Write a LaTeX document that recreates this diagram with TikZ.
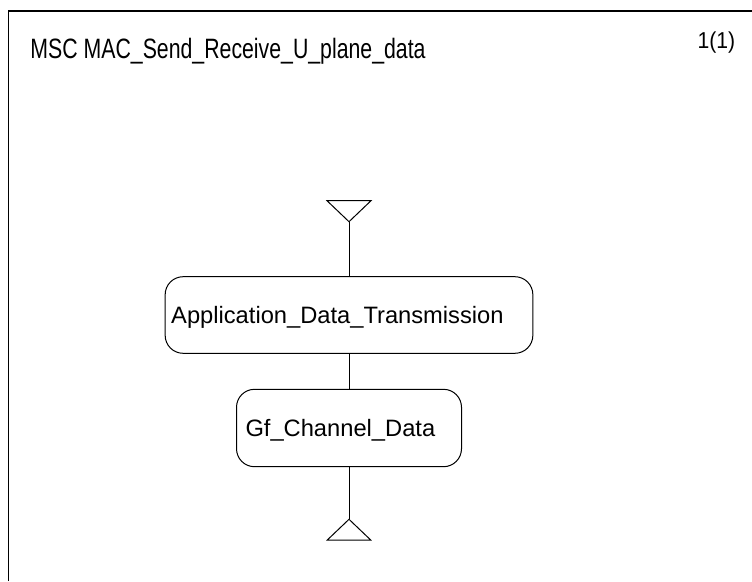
\documentclass[tikz,border=0pt]{standalone}
\usepackage{fontspec}
\setmainfont{Liberation Sans}
\begin{document}
\begin{tikzpicture}[x=1pt,y=-1pt,line width=1pt,
  refbox/.style={draw,rounded corners=18pt,inner sep=0pt},
  boxtext/.style={anchor=base west,inner sep=0pt,font=\fontsize{23.7}{28}\selectfont},
  headtext/.style={anchor=base west,inner sep=0pt}]
\useasboundingbox (0,0) rectangle (752,581);
% frame
\coordinate (fa) at (8.5,581);
\coordinate (fb) at (8.5,11);
\coordinate (fc) at (752,11);
\draw[line width=1.2pt] (fa) -- (fb) -- (fc);
% heading
\node[headtext] (title) at (30,58.3) {\fontsize{28}{32}\selectfont\scalebox{0.76}[1]{MSC MAC\_Send\_Receive\_U\_plane\_data}};
\node[headtext] (page) at (697,48.5) {\fontsize{23}{27}\selectfont\scalebox{0.92}[1]{1(1)}};
% top triangle
\coordinate (t1a) at (327,200.7);
\coordinate (t1b) at (371,200.7);
\coordinate (t1apex) at (349,221.7);
\draw[line join=miter] (t1a) -- (t1b) -- (t1apex) -- cycle;
% boxes
\node[refbox,minimum width=367.7pt,minimum height=76.6pt] (box1) at (349,315) {};
\node[boxtext] (txt1) at (170.7,323.5) {Application\_Data\_Transmission};
\node[refbox,minimum width=225pt,minimum height=77.4pt] (box2) at (349,428) {};
\node[boxtext] (txt2) at (245,436.3) {Gf\_Channel\_Data};
% bottom triangle
\coordinate (t2apex) at (349,519.3);
\coordinate (t2a) at (327.3,540);
\coordinate (t2b) at (370.7,540);
\draw[line join=miter] (t2apex) -- (t2a) -- (t2b) -- cycle;
% connectors
\draw (t1apex) -- (box1.north);
\draw (box1.south) -- (box2.north);
\draw (box2.south) -- (t2apex);
\end{tikzpicture}
\end{document}
